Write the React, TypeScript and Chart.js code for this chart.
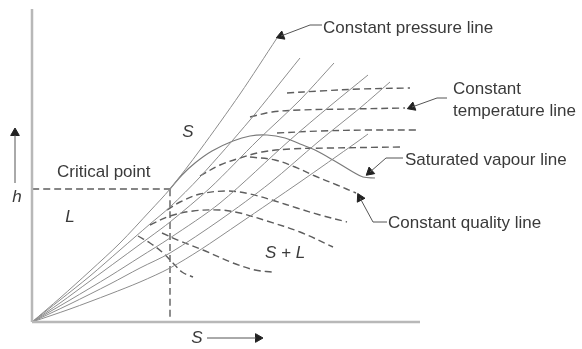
import React, { useEffect, useRef } from "react";
import { Chart, registerables } from "chart.js";

Chart.register(...registerables);

type P = [number, number];

// entropy s (x) vs enthalpy h (y), arbitrary sketch units
const axisY: P[] = [[0, 313], [0, 0]];
const axisX: P[] = [[0, 0], [388, 0]];

const pressureLines: P[][] = [
  [[0, 0], [28, 24], [58, 51], [88, 79], [118, 111], [138, 133], [168, 172], [208, 228], [245, 284]],
  [[0, 0], [28, 22], [58, 46], [88, 72], [118, 98], [138, 115], [168, 145], [218, 202], [268, 264]],
  [[0, 0], [28, 19], [58, 41], [88, 63], [118, 85], [138, 100], [178, 134], [226, 182], [268, 222], [302, 259]],
  [[0, 0], [38, 22], [78, 46], [108, 65], [138, 84], [188, 119], [258, 182], [298, 216], [336, 247]],
  [[0, 0], [38, 18], [78, 38], [108, 54], [138, 69], [188, 102], [238, 139], [286, 180], [328, 214], [358, 240]],
  [[0, 0], [38, 13], [78, 28], [108, 40], [138, 54], [168, 72], [208, 99], [268, 140], [325, 180], [336, 188]],
];

const saturatedVapour: P[] = [
  [138, 133], [150, 147], [163, 159], [180, 171], [201, 181], [218, 186], [235, 187],
  [253, 184], [268, 178], [283, 172], [301, 162], [321, 150], [331, 145], [343, 144],
];

const temperatureLines: P[][] = [
  [[255, 229], [288, 231], [328, 233], [378, 234]],
  [[218, 205], [240, 210], [268, 212], [318, 213], [373, 214]],
  [[245, 189], [288, 191], [338, 192], [385, 192]],
  [[168, 146], [188, 157], [208, 164], [230, 170], [258, 173], [298, 174], [368, 175]],
];

const qualityLines: P[][] = [
  [[218, 165], [243, 162], [263, 155], [283, 146], [305, 137], [324, 129]],
  [[135, 112], [148, 120], [168, 128], [196, 131], [218, 128], [243, 121], [265, 114], [288, 107], [315, 100]],
  [[118, 97], [138, 106], [161, 111], [188, 112], [208, 109], [235, 101], [268, 90], [301, 75]],
  [[130, 89], [148, 81], [171, 72], [201, 59], [223, 52], [240, 50]],
  [[106, 86], [118, 79], [130, 70], [140, 60], [150, 50], [161, 45]],
];

const criticalLines: P[][] = [
  [[0, 133], [138, 133]],
  [[138, 133], [138, 0]],
];

const leaderLines: P[][] = [
  [[290, 297], [278, 297], [249, 286]],
  [[415, 224], [405, 224], [380, 215]],
  [[371, 164], [354, 164], [338, 150]],
  [[355, 100], [341, 100], [328, 124]],
  [[-17, 139], [-17, 187]],
  [[175, -16], [224, -16]],
];
const arrowHeads: P[] = [[249, 286], [380, 215], [338, 150], [328, 124], [-17, 189], [226, -16]];
const arrowAngles: number[] = [249, 250, 229, 333, 0, 90];

type Label = { text: string; at: P; italic?: boolean; align?: CanvasTextAlign };
const labels: Label[] = [
  { text: "Constant pressure line", at: [291, 289] },
  { text: "Constant", at: [421, 228] },
  { text: "temperature line", at: [421, 206] },
  { text: "Saturated vapour line", at: [373, 157] },
  { text: "Constant quality line", at: [356, 94] },
  { text: "Critical point", at: [25, 145] },
  { text: "S", at: [156, 185], italic: true, align: "center" },
  { text: "L", at: [38, 100], italic: true, align: "center" },
  { text: "S + L", at: [253, 64], italic: true, align: "center" },
  { text: "h", at: [-15, 120], italic: true, align: "center" },
  { text: "S", at: [165, -21], italic: true, align: "center" },
];

const toXY = (pts: P[]) => pts.map(([x, y]) => ({ x, y }));

const labelPlugin = {
  id: "sketchLabels",
  afterDatasetsDraw(chart: any) {
    const { ctx, scales } = chart;
    ctx.save();
    ctx.fillStyle = "#3a3a3a";
    ctx.textBaseline = "alphabetic";
    for (const l of labels) {
      ctx.font = `${l.italic ? "italic " : ""}17px "Liberation Sans", Arial, sans-serif`;
      ctx.textAlign = l.align || "left";
      ctx.fillText(l.text, scales.x.getPixelForValue(l.at[0]), scales.y.getPixelForValue(l.at[1]));
    }
    ctx.restore();
  },
};

export default function App() {
  const ref = useRef<HTMLCanvasElement | null>(null);
  useEffect(() => {
    document.body.style.margin = "0";
    const base = { showLine: true, pointRadius: 0, clip: false as any, fill: false };
    const datasets: any[] = [];
    for (const a of [axisY, axisX]) {
      datasets.push({ ...base, data: toXY(a), borderColor: "#b8b8b8", borderWidth: 2.5, tension: 0 });
    }
    for (const l of pressureLines) {
      datasets.push({ ...base, data: toXY(l), borderColor: "#8c8c8c", borderWidth: 1, tension: 0.3 });
    }
    datasets.push({ ...base, data: toXY(saturatedVapour), borderColor: "#7a7a7a", borderWidth: 1.2, tension: 0.35 });
    for (const l of [...temperatureLines, ...qualityLines, ...criticalLines]) {
      datasets.push({ ...base, data: toXY(l), borderColor: "#5e5e5e", borderWidth: 1.4, borderDash: [7, 4], tension: 0.35 });
    }
    for (const l of leaderLines) {
      datasets.push({ ...base, data: toXY(l), borderColor: "#555", borderWidth: 1, tension: 0 });
    }
    datasets.push({
      showLine: false,
      clip: false,
      data: toXY(arrowHeads),
      pointStyle: "triangle",
      pointRadius: 5,
      pointRotation: arrowAngles,
      backgroundColor: "#222",
      borderColor: "#222",
      borderWidth: 1,
    });
    const chart = new Chart(ref.current as HTMLCanvasElement, {
      type: "scatter",
      data: { datasets },
      options: {
        animation: false,
        responsive: false,
        events: [],
        layout: { padding: 0, autoPadding: false },
        plugins: { legend: { display: false }, tooltip: { enabled: false } },
        scales: {
          x: { type: "linear", min: -32, max: 550, display: false },
          y: { type: "linear", min: -27, max: 322, display: false },
        },
      },
      plugins: [labelPlugin],
    });
    return () => chart.destroy();
  }, []);
  return (
    <div style={{ position: "absolute", left: 0, top: 0, width: 582, height: 349, background: "#fff" }}>
      <canvas ref={ref} width={582} height={349} />
    </div>
  );
}
